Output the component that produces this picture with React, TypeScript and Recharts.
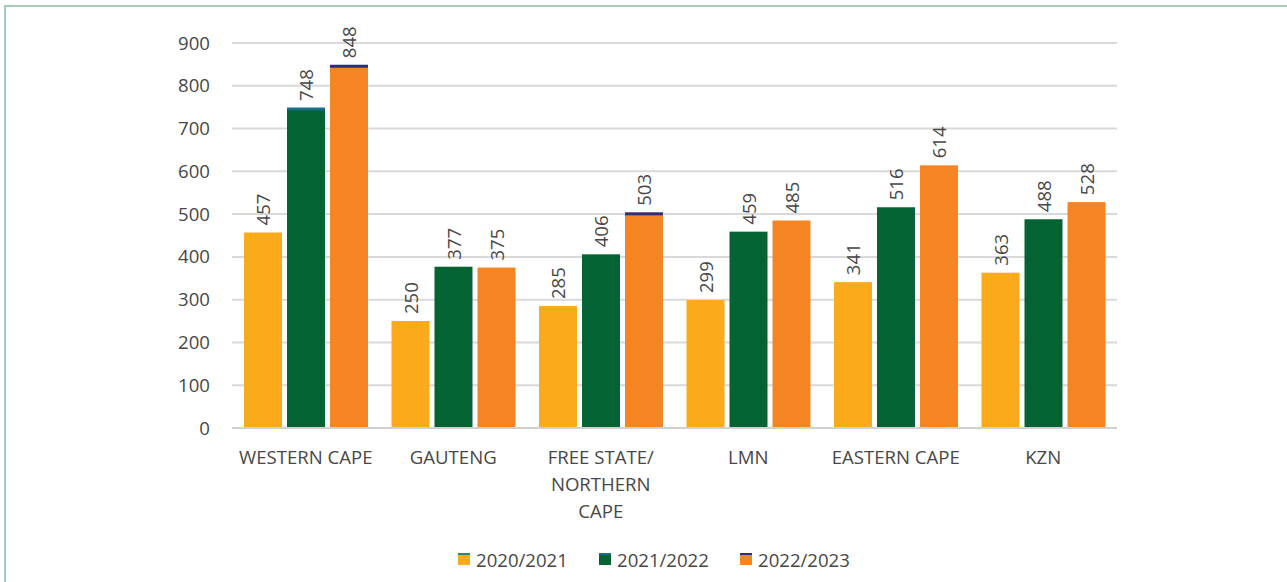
import React from "react";
import { BarChart, Bar, XAxis, YAxis, CartesianGrid, Legend, LabelList } from "recharts";

const categories = ["WESTERN CAPE", "GAUTENG", "FREE STATE/ NORTHERN CAPE", "LMN", "EASTERN CAPE", "KZN"];
const tickLines = [["WESTERN CAPE"], ["GAUTENG"], ["FREE STATE/", "NORTHERN", "CAPE"], ["LMN"], ["EASTERN CAPE"], ["KZN"]];
const y2021 = [457, 250, 285, 299, 341, 363];
const y2022 = [748, 377, 406, 459, 516, 488];
const y2023 = [848, 375, 503, 485, 614, 528];
const yTicks = [0, 100, 200, 300, 400, 500, 600, 700, 800, 900];

// bars that carry the thin accent cap in the original
const capped2022 = ["WESTERN CAPE"];
const capped2023 = ["WESTERN CAPE", "FREE STATE/ NORTHERN CAPE"];

const SERIES = [
  { key: "a", name: "2020/2021", color: "#FBAA1B", cap: "#1f8a7a", capped: [] as string[] },
  { key: "b", name: "2021/2022", color: "#036332", cap: "#1a6b86", capped: capped2022 },
  { key: "c", name: "2022/2023", color: "#F58423", cap: "#2e2d7f", capped: capped2023 },
];

const data = categories.map((c, i) => ({ name: c, a: y2021[i], b: y2022[i], c: y2023[i] }));

const FONT = "'Open Sans', sans-serif";
const TEXT = "#474747";
const FS = 18.6;

function makeShape(color: string, cap: string, capped: string[]) {
  return (props: any) => {
    const { x, y, width, height, payload } = props;
    const hasCap = capped.includes(payload?.name);
    return (
      <g>
        <rect x={x} y={y} width={width} height={height} fill={color} />
        {hasCap && <rect x={x} y={y - 0.5} width={width} height={3} fill={cap} />}
      </g>
    );
  };
}

const ValueLabel = (props: any) => {
  const { x, y, width, value } = props;
  const cx = x + width / 2;
  const ty = y - 7;
  return (
    <text
      x={cx}
      y={ty}
      transform={`rotate(-90, ${cx}, ${ty})`}
      textAnchor="start"
      dominantBaseline="central"
      fontFamily={FONT}
      fontSize={FS}
      fill={TEXT}
    >
      {value}
    </text>
  );
};

const XTick = (props: any) => {
  const { x, y, index } = props;
  const lines = tickLines[index] ?? [String(props.payload?.value)];
  return (
    <g>
      {lines.map((l, i) => (
        <text key={i} x={x} y={y + 28 + i * 27} textAnchor="middle" fontFamily={FONT} fontSize={FS} fill={TEXT}>
          {l}
        </text>
      ))}
    </g>
  );
};

const LegendContent = () => (
  <div style={{ display: "flex", height: 30, alignItems: "center", paddingLeft: 458, fontFamily: FONT, fontSize: FS, color: TEXT }}>
    {SERIES.map((s) => (
      <div key={s.key} style={{ display: "flex", alignItems: "center", width: 141 }}>
        <svg width={12} height={12} style={{ marginRight: 6 }}>
          <rect x={0} y={0} width={12} height={12} fill={s.color} />
          <rect x={0} y={0} width={12} height={2} fill={s.cap} />
        </svg>
        <span>{s.name}</span>
      </div>
    ))}
  </div>
);

export default function App() {
  return (
    <div style={{ position: "absolute", left: 0, top: 0, width: 1287, height: 582, background: "#fff", overflow: "hidden" }}>
      <div
        style={{
          position: "absolute",
          left: 4,
          top: 5,
          width: 1300,
          height: 600,
          borderLeft: "2px solid #a6ccb5",
          borderTop: "2px solid #a6ccb5",
        }}
      />
      <div style={{ position: "absolute", left: 0, top: 0 }}>
        <BarChart
          width={1287}
          height={582}
          data={data}
          margin={{ top: 43, right: 170, bottom: 8, left: 0 }}
          barCategoryGap={12}
          barGap={5}
        >
          <CartesianGrid vertical={false} stroke="#d9d9d9" strokeWidth={2} />
          <XAxis
            dataKey="name"
            interval={0}
            height={116}
            tickLine={false}
            axisLine={{ stroke: "#d0d0d0", strokeWidth: 2 }}
            tick={<XTick />}
          />
          <YAxis
            width={232}
            domain={[0, 900]}
            ticks={yTicks}
            tickLine={false}
            axisLine={false}
            tickMargin={16}
            tick={{ fontFamily: FONT, fontSize: FS, fill: TEXT }}
          />
          <Legend
            verticalAlign="bottom"
            wrapperStyle={{ left: 0, width: 1287 }}
            content={<LegendContent />}
          />
          {SERIES.map((s) => (
            <Bar
              key={s.key}
              dataKey={s.key}
              name={s.name}
              fill={s.color}
              isAnimationActive={false}
              shape={makeShape(s.color, s.cap, s.capped)}
            >
              <LabelList dataKey={s.key} content={<ValueLabel />} />
            </Bar>
          ))}
        </BarChart>
      </div>
    </div>
  );
}
